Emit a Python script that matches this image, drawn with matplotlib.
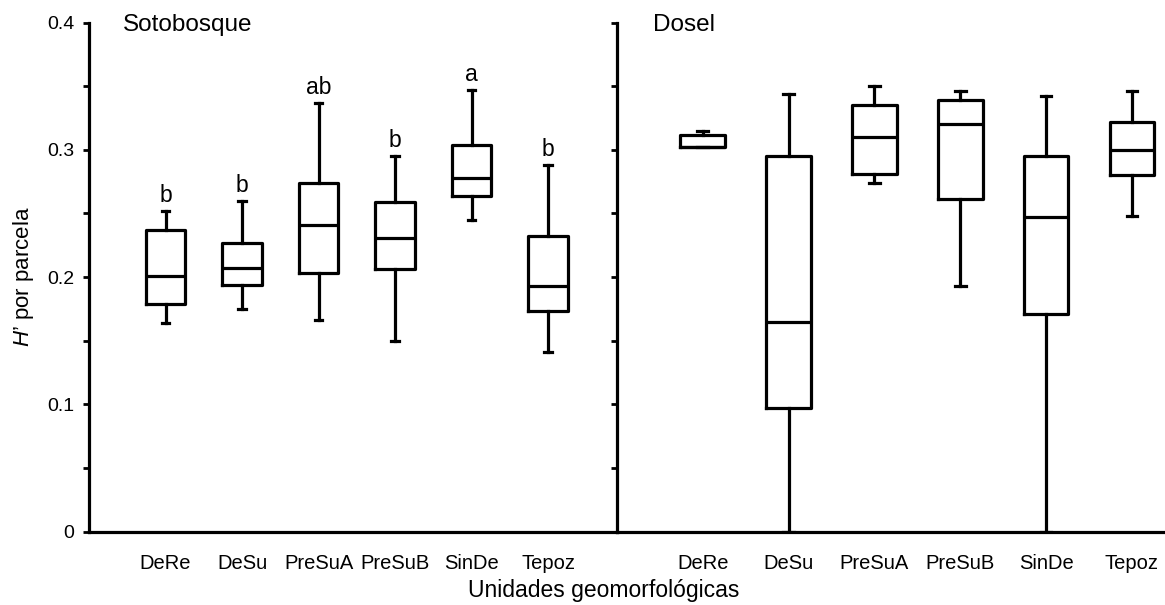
import numpy as np
import matplotlib
matplotlib.use("Agg")
from matplotlib import pyplot as plt
from matplotlib.ticker import MultipleLocator

plt.rcParams['font.family'] = ['Liberation Sans', 'DejaVu Sans']
plt.rcParams['mathtext.fontset'] = 'custom'
plt.rcParams['mathtext.it'] = 'Liberation Sans:italic'

units = ['DeRe', 'DeSu', 'PreSuA', 'PreSuB', 'SinDe', 'Tepoz']
yticks = [0, 0.1, 0.2, 0.3, 0.4]
ytick_labels = ['0', '0.1', '0.2', '0.3', '0.4']

# Sotobosque (understory)
soto_lo = [0.164, 0.175, 0.166, 0.150, 0.245, 0.141]
soto_q1 = [0.179, 0.194, 0.203, 0.206, 0.264, 0.173]
soto_med = [0.201, 0.207, 0.241, 0.231, 0.278, 0.193]
soto_q3 = [0.237, 0.227, 0.274, 0.259, 0.304, 0.232]
soto_hi = [0.252, 0.260, 0.337, 0.295, 0.347, 0.288]
soto_letters = ['b', 'b', 'ab', 'b', 'a', 'b']

# Dosel (canopy)
dosel_lo = [0.302, 0.0, 0.274, 0.193, 0.0, 0.248]
dosel_q1 = [0.302, 0.097, 0.281, 0.261, 0.171, 0.280]
dosel_med = [0.302, 0.165, 0.310, 0.320, 0.247, 0.300]
dosel_q3 = [0.312, 0.295, 0.335, 0.339, 0.295, 0.322]
dosel_hi = [0.315, 0.344, 0.350, 0.346, 0.342, 0.346]

lw = 2.3


def make_stats(lo, q1, med, q3, hi):
    return [dict(whislo=a, q1=b, med=c, q3=d, whishi=e, fliers=[])
            for a, b, c, d, e in zip(lo, q1, med, q3, hi)]


def draw_panel(ax, stats, capw, xmax, title, title_x):
    style = dict(color='black', linewidth=lw)
    ax.bxp(stats, positions=np.arange(1, 7), widths=0.52, capwidths=capw,
           showfliers=False, boxprops=style, whiskerprops=style,
           capprops=style, medianprops=style)
    ax.set_xlim(0, xmax)
    ax.set_ylim(0, 0.4)
    ax.set_xticks(np.arange(1, 7))
    ax.set_xticklabels(units, fontsize=14.5)
    ax.tick_params(axis='x', length=0, pad=16)
    ax.set_yticks(yticks)
    ax.set_yticklabels(ytick_labels)
    ax.yaxis.set_minor_locator(MultipleLocator(0.05))
    ax.tick_params(axis='y', which='both', direction='out', length=4.5,
                   width=2, labelsize=14, pad=6)
    for s in ['top', 'right']:
        ax.spines[s].set_visible(False)
    for s in ['left', 'bottom']:
        ax.spines[s].set_linewidth(2.3)
    ax.text(title_x, 0.995, title, transform=ax.transAxes, fontsize=17.5,
            va='center', ha='left')


fig = plt.figure(figsize=(11.65, 6.05), dpi=100)
ax1 = fig.add_axes([0.0764, 0.1212, 0.4532, 0.8416])
ax2 = fig.add_axes([0.5296, 0.1212, 0.4704, 0.8416])

draw_panel(ax1, make_stats(soto_lo, soto_q1, soto_med, soto_q3, soto_hi),
           0.1, 6.9, 'Sotobosque', 0.064)
draw_panel(ax2, make_stats(dosel_lo, dosel_q1, dosel_med, dosel_q3, dosel_hi),
           0.125, 6.385, 'Dosel', 0.066)

ax2.tick_params(axis='y', which='both', labelleft=False)

for i, (letter, top) in enumerate(zip(soto_letters, soto_hi)):
    ax1.text(i + 1, top + 0.007, letter, ha='center', va='baseline',
             fontsize=16.5)

fig.text(23 / 1165, 1 - 277 / 605, "$\\mathit{H}$\u2019 por parcela",
         rotation=90, ha='center', va='center', fontsize=16)
fig.text(604 / 1165, 1 - 591 / 605, 'Unidades geomorfológicas',
         ha='center', va='center', fontsize=16.5)

fig.savefig('out.png', dpi=100)
